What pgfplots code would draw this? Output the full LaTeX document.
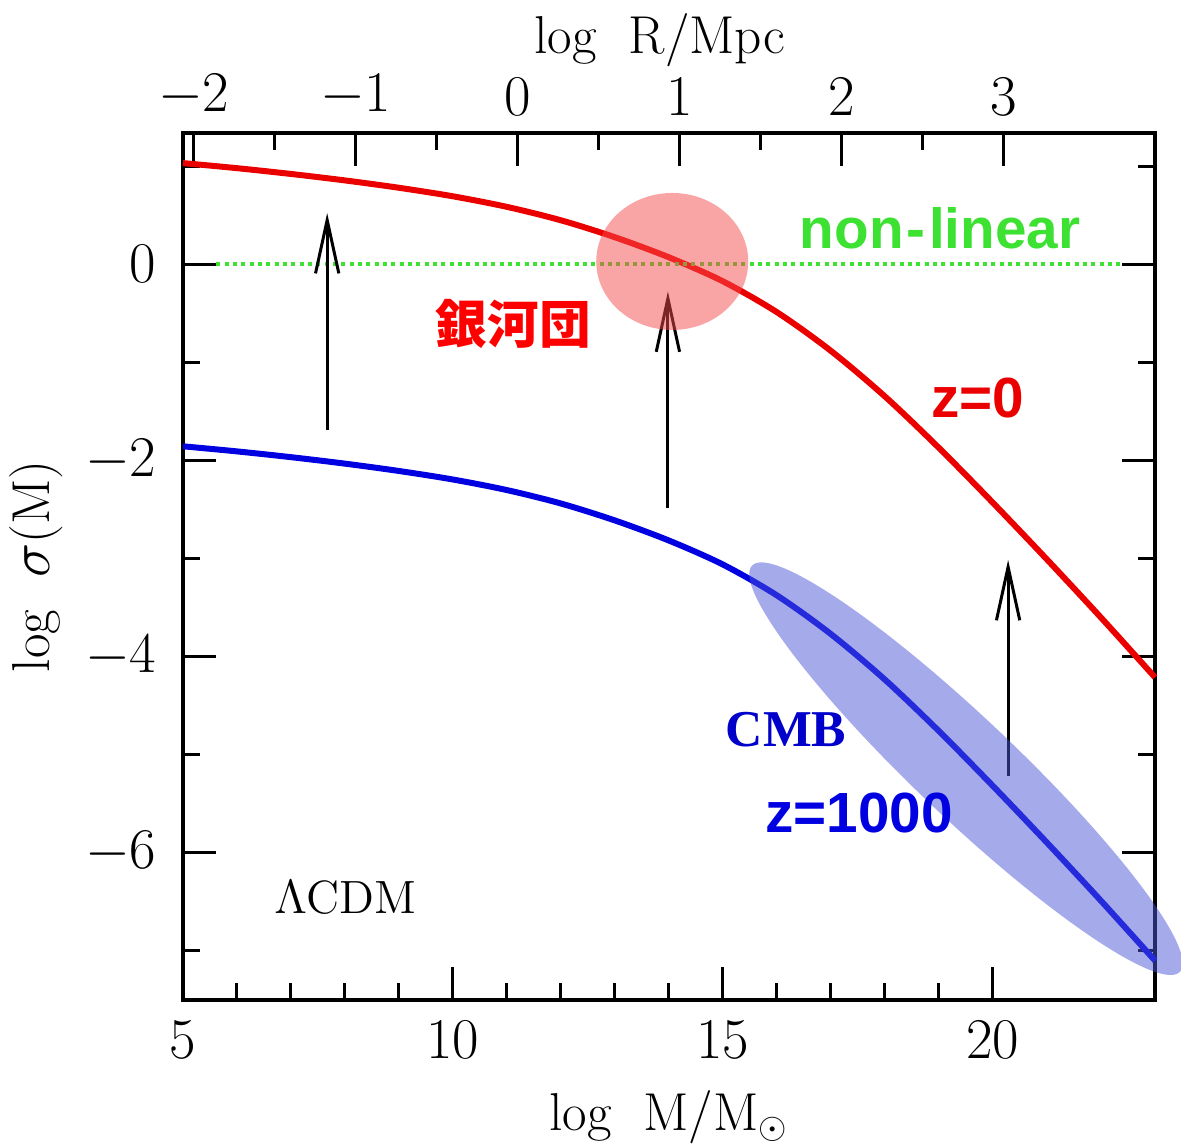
\documentclass[border=0pt]{standalone}
\usepackage{fontspec}
\usepackage{pgfplots}
\pgfplotsset{compat=1.18}
\usetikzlibrary{arrows.meta}

\newfontfamily\annfont{Liberation Sans}
\newfontfamily\cmbfont{Liberation Serif}
\newfontfamily\cjk{Noto Sans CJK JP}

\definecolor{curvered}{RGB}{235,0,0}
\definecolor{curveblue}{RGB}{0,0,225}
\definecolor{nlgreen}{RGB}{60,225,50}
\definecolor{halored}{RGB}{245,75,75}
\definecolor{haloblue}{RGB}{75,85,215}

% log sigma(M) for LCDM at z=0 and z=1000
\pgfplotstableread{
logM  zzero   zcmb
5     1.030  -1.860
6     0.978  -1.912
7     0.919  -1.971
8     0.853  -2.037
9     0.778  -2.112
10    0.691  -2.199
11    0.583  -2.307
12    0.446  -2.444
13    0.273  -2.617
14    0.068  -2.822
15   -0.177  -3.067
16   -0.492  -3.382
17   -0.887  -3.777
18   -1.352  -4.242
19   -1.877  -4.767
20   -2.437  -5.327
21   -3.015  -5.905
22   -3.608  -6.498
23   -4.218  -7.108
}\sigmatab

\newcommand{\labfont}{\fontsize{16}{18}\selectfont}

\begin{document}
\begin{tikzpicture}
\pgfplotsset{
  frame/.style={
    scale only axis, width=291.6pt, height=260.1pt,
    major tick length=10pt, minor tick length=5pt,
    tick align=inside,
    every tick/.style={black, line width=0.9pt},
    axis line style={line width=1.2pt},
    tick label style={font=\labfont},
    label style={font=\labfont},
  }
}
% upper scale: comoving radius
\begin{axis}[
  frame,
  xmin=-2.0667, xmax=3.9333, ymin=0, ymax=1,
  xtick={-2,-1,0,1,2,3}, minor x tick num=1,
  xtick pos=right, xticklabel pos=right,
  ytick=\empty,
  xticklabel style={yshift=1.6pt},
  xlabel={log\hspace{0.6em}R/Mpc},
  xlabel style={at={([xshift=-2.7pt,yshift=27.9pt]rel axis cs:0.5,1)}, anchor=center},
]
\end{axis}

\begin{axis}[
  frame,
  xmin=5, xmax=23, ymin=-7.51, ymax=1.337,
  xtick={5,10,15,20}, minor x tick num=4,
  ytick={-6,-4,-2,0}, minor ytick={-7,-5,-3,-1,1},
  xtick pos=left, ytick pos=both,
  yticklabel style={xshift=-4.5pt},
  xticklabel style={yshift=-2.8pt},
  xlabel={log\hspace{0.6em}M/M$_\odot$},
  ylabel={log\hspace{0.6em}$\sigma$(M)},
  xlabel style={at={([yshift=-35.1pt]rel axis cs:0.5,0)}, anchor=center},
  ylabel style={at={([xshift=-44.1pt]rel axis cs:0,0.5)}, anchor=center},
  clip=false,
]
\coordinate (sw) at (rel axis cs:0,0);
\coordinate (ne) at (rel axis cs:1,1);

\addplot[curvered, line width=1.8pt, smooth] table[x=logM, y=zzero] {\sigmatab};
\addplot[curveblue, line width=1.8pt, smooth] table[x=logM, y=zcmb] {\sigmatab};

% non-linear threshold sigma = 1
\addplot[nlgreen, line width=1.2pt, dash pattern=on 1.2pt off 1.3pt] coordinates {(5.62,0) (22.35,0)};

% growth from z=1000 to z=0
\draw[line width=0.9pt, -{Straight Barb[length=16pt,width=7pt]}] (axis cs:7.67,-1.69) -- (axis cs:7.67,0.52);
\draw[line width=0.9pt, -{Straight Barb[length=16pt,width=7pt]}] (axis cs:13.98,-2.49) -- (axis cs:13.98,-0.28);
\draw[line width=0.9pt, -{Straight Barb[length=16pt,width=7pt]}] (axis cs:20.28,-5.22) -- (axis cs:20.28,-3.02);

% highlighted regions
\fill[halored, opacity=0.5] (axis cs:14.06,0.026) ellipse [x radius=22.8pt, y radius=20.55pt];
\begin{scope}[shift={(axis cs:19.5,-5.15)}, rotate=-43.5]
  \fill[haloblue, opacity=0.5] (0pt,0pt) ellipse [x radius=88.5pt, y radius=15pt];
\end{scope}

% annotations
\node[text=nlgreen, font=\annfont\bfseries\fontsize{17}{20}\selectfont] at (axis cs:19.02,0.367) {non\kern1pt-\kern1pt linear};
\node[text=red, font=\cjk\bfseries\fontsize{15.5}{18}\selectfont] at (axis cs:11.12,-0.61) {銀河団};
\node[text=curvered, font=\annfont\bfseries\fontsize{17}{20}\selectfont] at (axis cs:19.72,-1.37) {z=0};
\node[text=curveblue!90!black, font=\cmbfont\bfseries\fontsize{15.5}{18}\selectfont] at (axis cs:16.17,-4.75) {CMB};
\node[text=curveblue, font=\annfont\bfseries\fontsize{17}{20}\selectfont] at (axis cs:17.52,-5.60) {z=1000};
\node[font=\fontsize{14}{16}\selectfont] at (axis cs:8.01,-6.47) {$\Lambda$CDM};
\end{axis}

\pgfresetboundingbox
\useasboundingbox ([shift={(-54.9pt,-44.1pt)}]sw) rectangle ([shift={(7.8pt,39.9pt)}]ne);
\end{tikzpicture}
\end{document}
